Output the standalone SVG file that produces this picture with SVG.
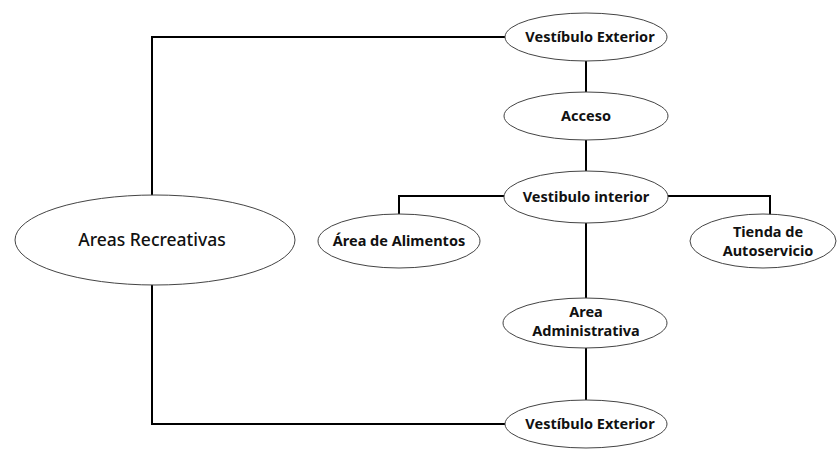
<svg xmlns="http://www.w3.org/2000/svg" width="838" height="450" viewBox="0 0 838 450">
<style>
.n ellipse{fill:#fff;stroke:#444;stroke-width:1}
.n text{font-family:"Noto Sans","DejaVu Sans",sans-serif;font-size:14.5px;font-weight:700;fill:#111;text-anchor:middle}
.c{fill:none;stroke:#000;stroke-width:2}
</style>
<rect width="838" height="450" fill="#fff"/>
<g id="connectors">
<path class="c" d="M505,37 H152 V195"/>
<path class="c" d="M152,285 V424 H505"/>
<path class="c" d="M586,61 V92"/>
<path class="c" d="M586,140 V171"/>
<path class="c" d="M586,223 V298"/>
<path class="c" d="M586,348 V400"/>
<path class="c" d="M504,196 H399 V214"/>
<path class="c" d="M668,196 H770 V215"/>
</g>
<g id="n1" class="n"><ellipse cx="586" cy="37" rx="81" ry="24"/><text x="590" y="42">Vestíbulo Exterior</text></g>
<g id="n2" class="n"><ellipse cx="586" cy="116" rx="82" ry="24"/><text x="586" y="121">Acceso</text></g>
<g id="n3" class="n"><ellipse cx="586" cy="197" rx="82" ry="26"/><text x="586" y="202">Vestibulo interior</text></g>
<g id="n4" class="n"><ellipse cx="399" cy="241" rx="81" ry="27"/><text x="399" y="246">Área de Alimentos</text></g>
<g id="n5" class="n"><ellipse cx="763" cy="241" rx="73" ry="27"/><text x="768" y="237">Tienda de</text><text x="768" y="256">Autoservicio</text></g>
<g id="n6" class="n"><ellipse cx="585" cy="323" rx="82" ry="25"/><text x="586" y="317">Area</text><text x="586" y="336">Administrativa</text></g>
<g id="n7" class="n"><ellipse cx="586" cy="424" rx="81" ry="24"/><text x="590" y="429">Vestíbulo Exterior</text></g>
<g id="n8" class="n"><ellipse cx="155" cy="240" rx="140" ry="45"/><text x="152" y="246" style="font-size:17.5px;font-weight:500">Areas Recreativas</text></g>
</svg>
